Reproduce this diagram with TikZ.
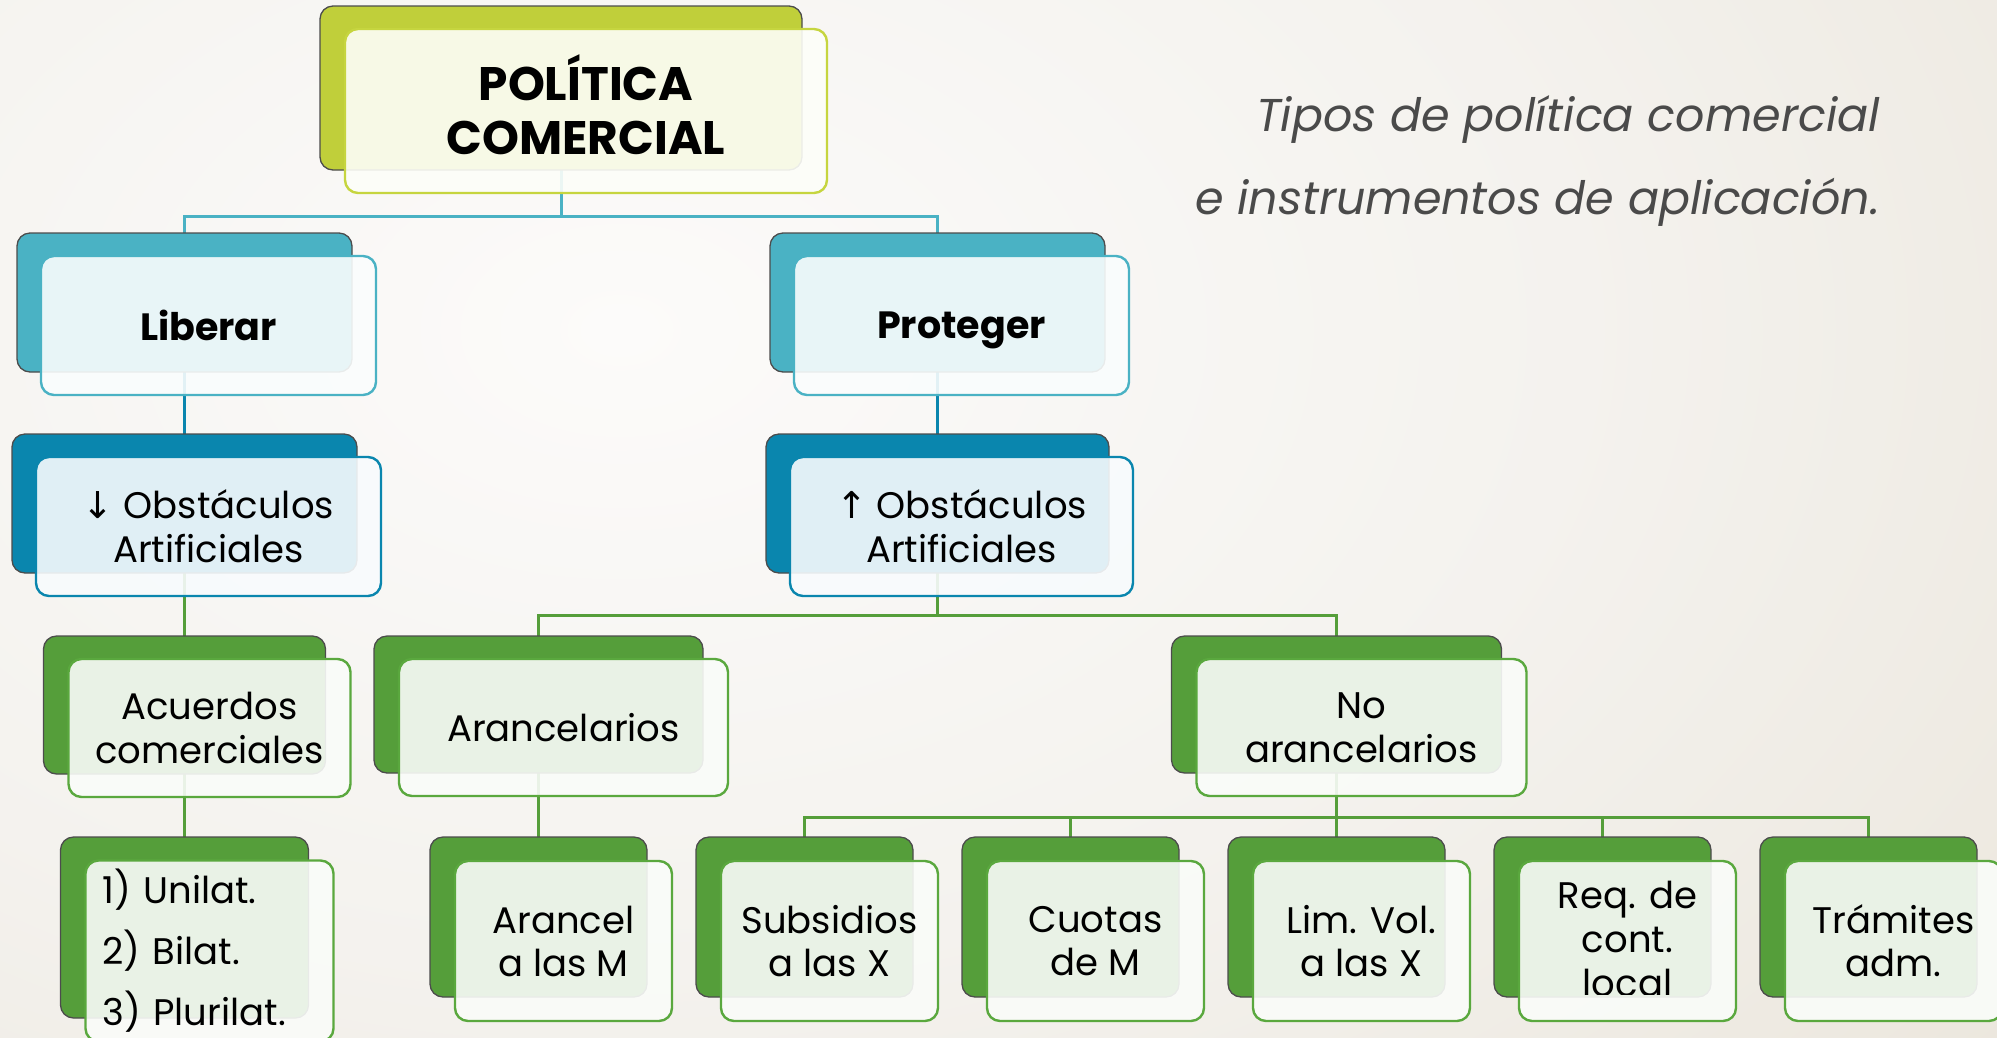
\documentclass[tikz,border=0pt]{standalone}
\usepackage{fontspec}
\setmainfont{Poppins}
\newfontfamily\arrowfont{DejaVu Sans}
\usetikzlibrary{calc}
\definecolor{cLime}{HTML}{C0CF3A}
\definecolor{cLimeF}{HTML}{C6D53F}
\definecolor{cTeal}{HTML}{4AB2C4}
\definecolor{cDTeal}{HTML}{0A86AE}
\definecolor{cGreen}{HTML}{559E3A}
\definecolor{cGreenF}{HTML}{5AA83E}
\definecolor{bgW}{HTML}{FCFBFA}
\definecolor{bgM}{HTML}{F4F2EE}
\definecolor{bgB}{HTML}{DFD6C4}
\definecolor{subGray}{HTML}{4A4A4A}
\pgfdeclareradialshading{bgshade}{\pgfpoint{0bp}{0bp}}{color(0bp)=(bgW); color(16bp)=(bgM); color(50bp)=(bgB)}
\pgfdeclarelayer{paper}
\pgfdeclarelayer{lines}
\pgfsetlayers{paper,lines,main}
\begin{document}
\begin{tikzpicture}[x=1pt,y=-1pt,
  sz/.style 2 args={minimum width=#1, minimum height=#2},
  back/.style={rectangle, draw=black!70, line width=1.3pt, rounded corners=13pt, inner sep=0pt, outer sep=0pt},
  front/.style={rectangle, draw=#1, fill=#1!3!white, fill opacity=0.9, text opacity=1, line width=2.4pt, rounded corners=13pt, inner sep=0pt, outer sep=0pt, text=black, align=center, font=\fontsize{37}{44}\selectfont},
  conn/.style={line width=3pt}
]
\useasboundingbox (0,0) rectangle (1997,1037);
\begin{pgfonlayer}{paper}
  \begin{scope}
    \clip (0,0) rectangle (1997,1037);
    \shade[shading=bgshade] (-880,-670) rectangle (2120,1330);
  \end{scope}
\end{pgfonlayer}

% ---- Level 0
\node[back, fill=cLime, sz={482pt}{164pt}] (polB) at (561,88) {};
\node[front=cLimeF, sz={482pt}{164pt}] (pol) at (586,111) {};
\node[align=center, inner sep=0pt, font=\bfseries\fontsize{47}{54}\selectfont] (polT) at (586,105) {POLÍTICA\\COMERCIAL};

% ---- Level 1
\node[back, fill=cTeal, sz={335pt}{139pt}] (libB) at (184.5,302.5) {};
\node[front=cTeal, sz={335pt}{139pt}, font=\bfseries\fontsize{38}{44}\selectfont] (lib) at (208.5,325.5) {Liberar};
\node[back, fill=cTeal, sz={335pt}{139pt}] (proB) at (937.5,302.5) {};
\node[front=cTeal, sz={335pt}{139pt}, text depth=0pt, font=\bfseries\fontsize{38}{44}\selectfont] (pro) at (961.5,325.5) {Proteger};

% ---- Level 2
\node[back, fill=cDTeal, sz={345pt}{139pt}] (obsLB) at (184.5,503.5) {};
\node[front=cDTeal, sz={345pt}{139pt}] (obsL) at (208.5,526.5) {{\arrowfont ↓} Obstáculos\\Artificiales};
\node[back, fill=cDTeal, sz={343pt}{139pt}] (obsRB) at (937.5,503.5) {};
\node[front=cDTeal, sz={343pt}{139pt}] (obsR) at (961.5,526.5) {{\arrowfont ↑} Obstáculos\\Artificiales};

% ---- Level 3
\node[back, fill=cGreen, sz={282pt}{138pt}] (acuB) at (184.5,705) {};
\node[front=cGreenF, sz={282pt}{138pt}] (acu) at (209.5,728) {Acuerdos\\comerciales};
\node[back, fill=cGreen, sz={329pt}{137pt}] (arcB) at (538.5,704.5) {};
\node[front=cGreenF, sz={329pt}{137pt}] (arc) at (563.5,727.5) {Arancelarios};
\node[back, fill=cGreen, sz={330pt}{137pt}] (noaB) at (1336.5,704.5) {};
\node[front=cGreenF, sz={330pt}{137pt}] (noa) at (1361.5,727.5) {No\\arancelarios};

% ---- Level 4
\node[back, fill=cGreen, sz={248pt}{181pt}] (uniB) at (184.5,927.5) {};
\node[front=cGreenF, sz={248pt}{181pt}, text width=214pt, align=left, font=\fontsize{37}{61}\selectfont] (uni) at (209.5,951) {1) Unilat.\\2) Bilat.\\3) Plurilat.};

\tikzset{l4/.style={sz={217pt}{160pt}}}
\node[back, fill=cGreen, l4] (armB) at (538.5,917) {};
\node[front=cGreenF, l4, font=\fontsize{37}{43}\selectfont] (arm) at (563.5,941) {Arancel\\a las M};
\node[back, fill=cGreen, l4] (subB) at (804.5,917) {};
\node[front=cGreenF, l4, font=\fontsize{37}{43}\selectfont] (sub) at (829.5,941) {Subsidios\\a las X};
\node[back, fill=cGreen, l4] (cuoB) at (1070.5,917) {};
\node[front=cGreenF, l4, font=\fontsize{37}{43}\selectfont] (cuo) at (1095.5,941) {Cuotas\\de M};
\node[back, fill=cGreen, l4] (limB) at (1336.5,917) {};
\node[front=cGreenF, l4, font=\fontsize{37}{43}\selectfont] (lim) at (1361.5,941) {Lim. Vol.\\a las X};
\node[back, fill=cGreen, l4] (reqB) at (1602.5,917) {};
\node[front=cGreenF, l4] (req) at (1627.5,941) {};
\begin{scope}
  \clip (1500,850) rectangle (1760,994);
  \node[align=center, inner sep=0pt, font=\fontsize{37}{44}\selectfont] (reqT) at (1627.5,939) {Req. de\\cont.\\local};
\end{scope}
\node[back, fill=cGreen, l4] (traB) at (1868.5,917) {};
\node[front=cGreenF, l4, font=\fontsize{37}{43}\selectfont] (tra) at (1893.5,941) {Trámites\\adm.};

% ---- Subtitle
\node[anchor=base east, inner sep=0pt, text=subGray, font=\itshape\fontsize{46}{46}\selectfont] (st1) at (1880,131) {Tipos de política comercial};
\node[anchor=base east, inner sep=0pt, text=subGray, font=\itshape\fontsize{46}{46}\selectfont] (st2) at (1880,214) {e instrumentos de aplicación.};

% ---- Connectors
\begin{pgfonlayer}{lines}
  \draw[conn, cTeal] (polB.south) -- ++(0,46) -| (libB.north);
  \draw[conn, cTeal] (polB.south) -- ++(0,46) -| (proB.north);
  \draw[conn, cDTeal] (libB.south) -- (obsLB.north);
  \draw[conn, cDTeal] (proB.south) -- (obsRB.north);
  \draw[conn, cGreen] (obsLB.south) -- (acuB.north);
  \draw[conn, cGreen] (obsRB.south) -- ++(0,42) -| (arcB.north);
  \draw[conn, cGreen] (obsRB.south) -- ++(0,42) -| (noaB.north);
  \draw[conn, cGreen] (acuB.south) -- (uniB.north);
  \draw[conn, cGreen] (arcB.south) -- (armB.north);
  \foreach \t in {subB,cuoB,limB,reqB,traB}
    \draw[conn, cGreen] (noaB.south) -- ++(0,44) -| (\t.north);
\end{pgfonlayer}
\end{tikzpicture}
\end{document}
